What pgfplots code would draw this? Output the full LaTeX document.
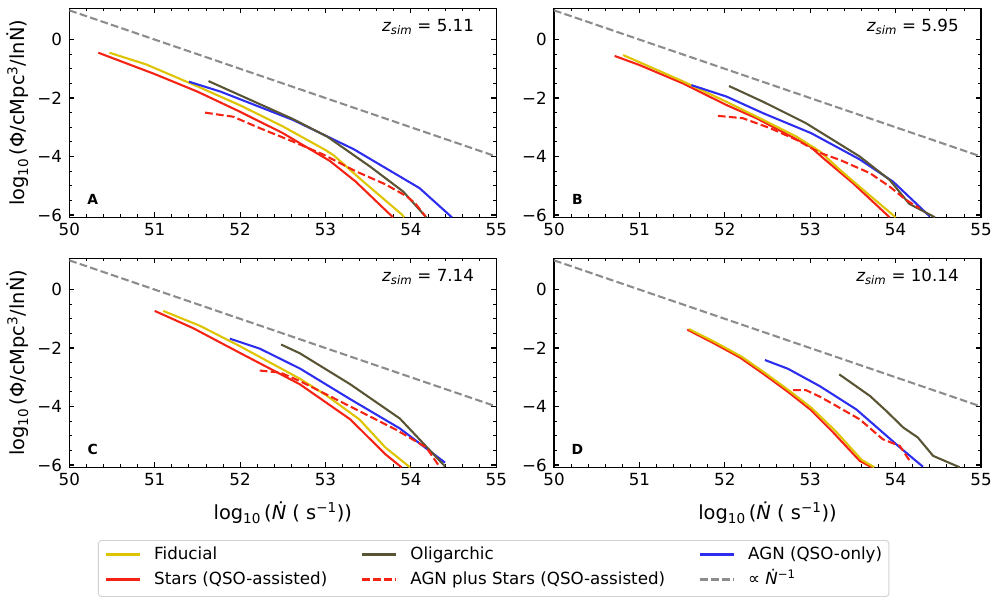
\documentclass[border=0pt]{standalone}
\usepackage{fontspec}
\setmainfont{DejaVu Sans}
\usepackage{pgfplots}
\pgfplotsset{compat=1.18}
\definecolor{cfid}{RGB}{222,196,0}
\definecolor{colig}{RGB}{88,84,52}
\definecolor{cagn}{RGB}{45,45,240}
\definecolor{cstar}{RGB}{245,35,20}
\definecolor{cgray}{RGB}{140,140,140}
\newcommand{\tickfont}{\fontsize{16.7}{20}\selectfont}
\newcommand{\labfont}{\fontsize{19.4}{23}\selectfont}
\pgfplotsset{
  panel/.style={
    scale only axis, width=427pt, height=209pt,
    xmin=50, xmax=55, ymin=-6.08, ymax=1.07,
    xtick={50,51,52,53,54,55}, xticklabels={50,51,52,53,54,55},
    ytick={-6,-4,-2,0}, yticklabels={−6,−4,−2,0},
    minor x tick num=4, minor y tick num=3,
    tick align=inside,
    major tick length=4.9pt, minor tick length=2.8pt,
    every tick/.style={black},
    major tick style={line width=1.1pt},
    minor tick style={line width=0.83pt},
    axis line style={line width=1.1pt, black},
    ticklabel style={font=\tickfont},
    xticklabel style={inner sep=0pt, yshift=-6pt},
    yticklabel style={inner sep=0pt, xshift=-7pt},
    label style={font=\labfont},
    ylabel style={at={(axis description cs:-0.12,0.5)}, anchor=center},
    xlabel style={at={(axis description cs:0.5,-0.219)}, anchor=center},
  },
  fid/.style={cfid, line width=2.08pt, line join=round},
  olig/.style={colig, line width=2.08pt, line join=round},
  agn/.style={cagn, line width=2.08pt, line join=round},
  star/.style={cstar, line width=2.08pt, line join=round},
  agnstar/.style={cstar, line width=2.08pt, dash pattern=on 7.7pt off 3.3pt},
  pl/.style={cgray, line width=2.08pt, dash pattern=on 7.7pt off 3.3pt},
}
\newcommand{\zlab}[1]{\node[anchor=base east, font=\tickfont] at (axis description cs:0.956,0.887) {{\itshape z}\textsubscript{\itshape sim} = #1};}
\newcommand{\plab}[1]{\node[anchor=base, font=\fontsize{13.9}{16}\selectfont\bfseries] at (axis description cs:0.055,0.059) {#1};}
\begin{document}
\begin{tikzpicture}
\path[use as bounding box] (0,0) rectangle (991pt,597pt);
% ---------- A ----------
\begin{axis}[panel, at={(69.3pt,379.7pt)}, anchor=south west,
  ylabel={log\textsubscript{10}\,(Φ/cMpc\textsuperscript{3}/lnṄ)}]
\addplot[pl] coordinates {(50,1) (55,-4)};
\addplot[star] coordinates {(50.34,-0.45) (51.0,-1.18) (51.5,-1.78) (52.0,-2.47) (52.5,-3.2) (53.05,-4.15) (53.35,-4.85) (53.79,-6.08)};
\addplot[fid] coordinates {(50.47,-0.45) (50.9,-0.85) (51.5,-1.6) (52.0,-2.25) (52.5,-2.97) (53.0,-3.78) (53.1,-3.97) (53.42,-4.8) (53.9,-6.0) (53.92,-6.08)};
\addplot[agn] coordinates {(51.4,-1.44) (51.77,-1.78) (52.62,-2.75) (53.33,-3.75) (54.1,-5.08) (54.48,-6.08)};
\addplot[olig] coordinates {(51.63,-1.42) (52.62,-2.72) (53.02,-3.32) (53.52,-4.34) (53.91,-5.2) (54.18,-6.08)};
\addplot[agnstar] coordinates {(51.59,-2.5) (51.92,-2.64) (52.23,-3.03) (52.62,-3.49) (52.98,-3.94) (53.35,-4.5) (53.7,-4.95) (53.95,-5.36) (54.05,-5.6) (54.17,-6.05)};
\zlab{5.11}\plab{A}
\end{axis}
% ---------- B ----------
\begin{axis}[panel, at={(554pt,379.7pt)}, anchor=south west]
\addplot[pl] coordinates {(50,1) (55,-4)};
\addplot[star] coordinates {(50.71,-0.56) (51.0,-0.87) (51.51,-1.5) (52.02,-2.24) (52.37,-2.69) (53.0,-3.66) (53.15,-4.05) (53.5,-4.91) (53.93,-6.08)};
\addplot[fid] coordinates {(50.81,-0.53) (51.51,-1.43) (52.02,-2.13) (52.45,-2.75) (52.84,-3.32) (53.12,-3.84) (53.35,-4.46) (53.62,-5.14) (54.0,-6.08)};
\addplot[agn] coordinates {(51.61,-1.56) (52.02,-1.95) (52.45,-2.52) (53.01,-3.2) (53.58,-4.1) (53.97,-4.86) (54.4,-6.05)};
\addplot[olig] coordinates {(52.05,-1.59) (52.45,-2.13) (52.95,-2.86) (53.58,-4.0) (53.93,-4.8) (54.16,-5.62) (54.46,-6.08)};
\addplot[agnstar] coordinates {(51.92,-2.61) (52.21,-2.69) (52.53,-3.03) (52.84,-3.43) (53.11,-3.87) (53.35,-4.12) (53.7,-4.57) (53.93,-5.03) (54.12,-5.48) (54.28,-5.77)};
\zlab{5.95}\plab{B}
\end{axis}
% ---------- C ----------
\begin{axis}[panel, at={(69.3pt,129.7pt)}, anchor=south west,
  ylabel={log\textsubscript{10}\,(Φ/cMpc\textsuperscript{3}/lnṄ)},
  xlabel={log\textsubscript{10}\,({\itshape Ṅ} ( s\textsuperscript{−1}))},
  legend columns=3, legend cell align=left,
  legend image code/.code={\draw[#1] (0pt,5.5pt) -- (34pt,5.5pt);},
  legend style={at={(0.0672,-0.348)}, anchor=north west, draw=black!18, line width=0.9pt,
    rounded corners=3pt, fill=white, font=\tickfont,
    inner xsep=6.7pt, inner ysep=7.5pt, row sep=9pt,
    nodes={inner sep=0pt, text height=12pt, text depth=4pt, anchor=base west},
    /tikz/every odd column/.append style={column sep=13pt},
    /tikz/every even column/.append style={column sep=34pt}}]
\addlegendimage{fid, sharp corners}\addlegendentry{Fiducial}
\addlegendimage{olig, sharp corners}\addlegendentry{Oligarchic}
\addlegendimage{agn, sharp corners}\addlegendentry{AGN (QSO-only)}
\addlegendimage{star, sharp corners}\addlegendentry{Stars (QSO-assisted)}
\addlegendimage{agnstar, sharp corners}\addlegendentry{AGN plus Stars (QSO-assisted)}
\addlegendimage{pl, sharp corners}\addlegendentry{∝ {\itshape Ṅ}\textsuperscript{−1}}
\addplot[pl, forget plot] coordinates {(50,1) (55,-4)};
\addplot[star, forget plot] coordinates {(51.0,-0.73) (51.45,-1.32) (52.0,-2.17) (52.7,-3.24) (53.29,-4.44) (53.7,-5.63) (53.89,-6.08)};
\addplot[fid, forget plot] coordinates {(51.1,-0.73) (51.53,-1.24) (52.0,-1.94) (52.7,-3.05) (53.02,-3.64) (53.4,-4.45) (53.7,-5.4) (53.99,-6.08)};
\addplot[agn, forget plot] coordinates {(51.88,-1.68) (52.23,-2.02) (52.7,-2.7) (53.29,-3.75) (53.87,-4.75) (54.4,-5.92)};
\addplot[olig, forget plot] coordinates {(52.48,-1.88) (52.7,-2.18) (53.29,-3.24) (53.87,-4.41) (54.4,-6.05)};
\addplot[agnstar, forget plot] coordinates {(52.23,-2.77) (52.47,-2.84) (52.7,-3.13) (53.29,-4.0) (53.83,-4.8) (54.18,-5.4) (54.34,-6.08)};
\zlab{7.14}\plab{C}
\end{axis}
% ---------- D ----------
\begin{axis}[panel, at={(554pt,129.7pt)}, anchor=south west,
  xlabel={log\textsubscript{10}\,({\itshape Ṅ} ( s\textsuperscript{−1}))}]
\addplot[pl] coordinates {(50,1) (55,-4)};
\addplot[star] coordinates {(51.56,-1.37) (51.86,-1.82) (52.18,-2.33) (52.45,-2.88) (52.74,-3.5) (53.0,-4.1) (53.27,-4.89) (53.58,-5.86) (53.72,-6.08)};
\addplot[fid] coordinates {(51.58,-1.35) (51.88,-1.79) (52.2,-2.3) (52.47,-2.85) (52.76,-3.47) (53.02,-4.06) (53.3,-4.85) (53.6,-5.82) (53.75,-6.08)};
\addplot[agn] coordinates {(52.47,-2.41) (52.74,-2.71) (53.11,-3.3) (53.54,-4.1) (54.05,-5.4) (54.32,-6.06)};
\addplot[olig] coordinates {(53.34,-2.9) (53.7,-3.64) (53.89,-4.15) (54.09,-4.72) (54.26,-5.06) (54.44,-5.69) (54.75,-6.08)};
\addplot[agnstar] coordinates {(52.8,-3.44) (52.95,-3.44) (53.11,-3.66) (53.27,-3.92) (53.58,-4.44) (53.85,-5.12) (54.05,-5.35) (54.18,-5.92)};
\zlab{10.14}\plab{D}
\end{axis}
\end{tikzpicture}
\end{document}
